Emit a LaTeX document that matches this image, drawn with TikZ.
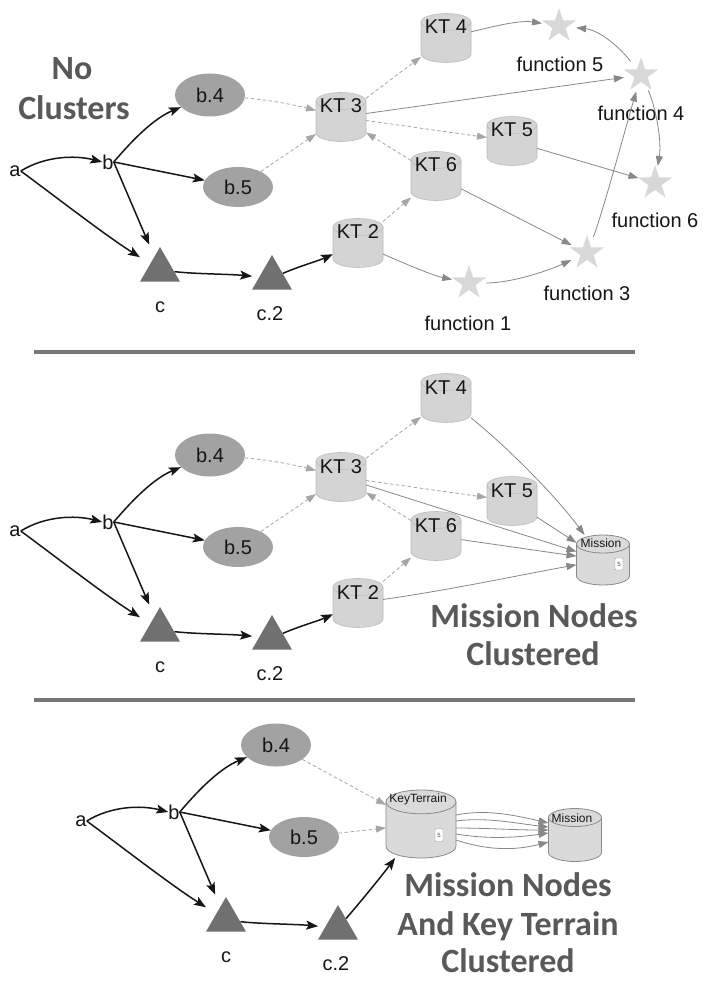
\documentclass[tikz,border=0pt]{standalone}
\usepackage{fontspec}
\setmainfont{Liberation Sans}
\newfontfamily\headfont{Carlito}
\usetikzlibrary{shapes.geometric,arrows.meta}

\definecolor{ink}{HTML}{161616}
\definecolor{ovalgray}{HTML}{A2A2A2}
\definecolor{trigray}{HTML}{707070}
\definecolor{cangray}{HTML}{D4D4D4}
\definecolor{canline}{HTML}{BDBDBD}
\definecolor{bigcanfill}{HTML}{DADADA}
\definecolor{canrim}{HTML}{8A8A8A}
\definecolor{stargray}{HTML}{D8D8D8}
\definecolor{linkgray}{HTML}{888888}
\definecolor{dashgray}{HTML}{A6A6A6}
\definecolor{badgeline}{HTML}{9A9A9A}
\definecolor{headgray}{HTML}{595959}
\definecolor{rulegray}{HTML}{777777}

\tikzset{
  lbl/.style={font=\fontsize{20}{24}\selectfont, text=ink, inner sep=0pt},
  smalllbl/.style={font=\fontsize{12}{14}\selectfont, text=ink, inner sep=0pt},
  oval/.style={ellipse, fill=ovalgray, minimum width=70pt, minimum height=43pt,
    inner sep=0pt, font=\fontsize{20}{24}\selectfont, text=ink},
  tri/.style={regular polygon, regular polygon sides=3, fill=trigray,
    minimum size=46pt, inner sep=0pt},
  canbox/.style={rectangle, inner sep=0pt, outer sep=0pt},
  canlook/.style={fill=cangray, draw=canline, line width=0.6pt},
  bigcanlook/.style={fill=bigcanfill, draw=canrim, line width=0.8pt},
  starshape/.style={star, star points=5, star point ratio=2.6, minimum size=36pt,
    inner sep=0pt, fill=stargray},
  ring/.style={circle, minimum size=34pt, inner sep=0pt},
  heavy/.style={draw=ink, line width=1.5pt, -{Stealth[length=12pt,width=9pt,inset=2.5pt]}},
  link/.style={draw=linkgray, line width=0.8pt, -{Triangle[length=10pt,width=7pt]}},
  dlink/.style={link, draw=dashgray, dash pattern=on 3.5pt off 2.5pt},
  badge/.style={draw=badgeline, fill=white, rounded corners=1pt, minimum width=8pt,
    minimum height=12pt, inner sep=0pt, font=\fontsize{6}{6}\selectfont, text=ink!80},
  head/.style={font=\headfont\bfseries\fontsize{34}{40}\selectfont, text=headgray,
    inner sep=0pt, anchor=base},
  divider/.style={draw=rulegray, line width=4pt},
}

% a named box with a can (cylinder) drawn in it: name, x, y, width, height, look
\newcommand{\drawcan}[6]{%
  \node[canbox, minimum width=#4pt, minimum height=#5pt] (#1) at (#2,#3) {};
  \pgfmathsetmacro\canrx{#4/2}%
  \pgfmathsetmacro\canry{#4*0.17}%
  \path[#6] ([yshift=-\canry pt]#1.north west) -- ([yshift=\canry pt]#1.south west)
    arc[start angle=180, end angle=360, x radius=\canrx pt, y radius=\canry pt]
    -- ([yshift=-\canry pt]#1.north east)
    arc[start angle=0, end angle=180, x radius=\canrx pt, y radius=\canry pt] -- cycle;
  \path[#6, fill=none] ([yshift=-\canry pt]#1.north west)
    arc[start angle=180, end angle=360, x radius=\canrx pt, y radius=\canry pt];
}

% the a / b / c part that every panel shares
\newcommand{\flowstart}[1]{%
  \node[lbl] (#1a) at (15,171) {a};
  \node[lbl] (#1b) at (108,162) {b};
  \node[oval] (#1b4) at (210,95) {b.4};
  \node[oval, minimum height=40pt] (#1b5) at (238,187) {b.5};
  \node[tri] (#1c) at (160,270) {};
  \node[tri] (#1c2) at (272,278) {};
  \node[lbl, anchor=base] (#1cname) at (160,312) {c};
  \node[lbl, anchor=base] (#1c2name) at (270,320) {c.2};
  \draw[heavy] (#1a.east) .. controls (45,156) and (75,155) .. (#1b.west);
  \draw[heavy, shorten >=12pt] (#1a.east) .. controls (60,200) and (105,235) .. (#1c);
  \draw[heavy] (#1b.east) .. controls (135,137) and (155,118) .. (#1b4);
  \draw[heavy] (#1b.east) -- (#1b5);
  \draw[heavy, shorten >=13pt] (#1b.east) -- (#1c);
  \draw[heavy, shorten >=7pt] (#1c) .. controls (195,274) and (228,274) .. (#1c2);
}

% the five key-terrain cans with their dashed links
\newcommand{\ktcluster}[1]{%
  \drawcan{#1k3}{341}{117}{50}{49}{canlook}
  \drawcan{#1k4}{446}{38}{50}{49}{canlook}
  \drawcan{#1k5}{512}{141}{50}{49}{canlook}
  \drawcan{#1k6}{436}{176}{50}{49}{canlook}
  \drawcan{#1k2}{358}{243}{50}{49}{canlook}
  \node[lbl, anchor=base] (#1k3name) at (341,113) {KT 3};
  \node[lbl, anchor=base] (#1k4name) at (446,34) {KT 4};
  \node[lbl, anchor=base] (#1k5name) at (512,137) {KT 5};
  \node[lbl, anchor=base] (#1k6name) at (436,172) {KT 6};
  \node[lbl, anchor=base] (#1k2name) at (358,239) {KT 2};
  \draw[dlink] (#1b4) .. controls (270,100) and (295,105) .. (#1k3);
  \draw[dlink] (#1b5) -- (#1k3);
  \draw[dlink] (#1k3) -- (#1k4);
  \draw[dlink] (#1k3) -- (#1k5);
  \draw[dlink] (#1k6) -- (#1k3);
  \draw[dlink] (#1k2) -- (#1k6);
  \draw[heavy] (#1c2) .. controls (300,266) and (318,261) .. (#1k2);
}

\begin{document}
\begin{tikzpicture}[x=1pt,y=-1pt]
\fill[white] (0,0) rectangle (702,981);
\useasboundingbox (0,0) rectangle (702,981);

% ---------- panel 1: no clusters ----------
\node[head] (h1a) at (72,80) {No};
\node[head] (h1b) at (74,120) {Clusters};
\flowstart{t}
\ktcluster{t}

\node[starshape] (f5star) at (559,26) {};
\node[starshape] (f4star) at (641,75) {};
\node[starshape] (f6star) at (655,183) {};
\node[starshape] (f3star) at (587,253) {};
\node[starshape] (f1star) at (469,283) {};
\node[ring] (f5) at (559,26) {};
\node[ring] (f4) at (641,75) {};
\node[ring] (f6) at (655,183) {};
\node[ring] (f3) at (587,253) {};
\node[ring] (f1) at (469,283) {};
\node[lbl, anchor=base] (f5name) at (560,72) {function 5};
\node[lbl, anchor=base] (f4name) at (641,121) {function 4};
\node[lbl, anchor=base] (f6name) at (655,228) {function 6};
\node[lbl, anchor=base] (f3name) at (587,300) {function 3};
\node[lbl, anchor=base] (f1name) at (468,330) {function 1};

\draw[link] (tk4) .. controls (495,26) and (520,20) .. (f5);
\draw[link] (tk3) -- (f4);
\draw[link] (f4) .. controls (618,45) and (598,30) .. (f5);
\draw[link] (f4) .. controls (655,105) and (662,140) .. (f6);
\draw[link] (tk5) -- (f6);
\draw[link] (tk6) -- (f3);
\draw[link] (tk2) .. controls (410,266) and (435,276) .. (f1);
\draw[link] (f1) .. controls (510,283) and (545,272) .. (f3);
\draw[link] (f3) .. controls (602,215) and (625,130) .. (f4);

\draw[divider] (34,352) -- (635,352);

% ---------- panel 2: mission nodes clustered ----------
\begin{scope}[shift={(0,360)}]
  \flowstart{m}
  \ktcluster{m}
\end{scope}
\drawcan{mis1}{603}{560}{53}{50}{bigcanlook}
\node[smalllbl] (mis1name) at (601,543) {Mission};
\node[badge] (mis1badge) at (619,564) {5};
\draw[link] (mk4) .. controls (505,445) and (555,495) .. (mis1);
\draw[link] (mk5) -- (mis1);
\draw[link] (mk3) -- (mis1);
\draw[link] (mk6) -- (mis1);
\draw[link] (mk2) .. controls (450,590) and (520,575) .. (mis1);
\node[head] (h2a) at (534,627) {Mission Nodes};
\node[head] (h2b) at (533,665) {Clustered};

\draw[divider] (34,700) -- (635,700);

% ---------- panel 3: mission nodes and key terrain clustered ----------
\begin{scope}[shift={(66,650)}]
  \flowstart{u}
\end{scope}
\drawcan{kter}{421}{824}{70}{68}{bigcanlook}
\node[smalllbl] (ktername) at (418,799) {KeyTerrain};
\node[badge, minimum height=13pt] (kterbadge) at (439,835) {5};
\drawcan{mis2}{575}{835}{53}{53}{bigcanlook}
\node[smalllbl] (mis2name) at (572,818) {Mission};
\draw[dlink] (ub4) -- (kter);
\draw[dlink] (ub5) -- (kter);
\draw[heavy] (uc2) .. controls (362,900) and (380,878) .. (kter);
\draw[link] ([yshift=9pt]kter.0) .. controls +(30,-6) and +(-35,-8) .. ([yshift=12pt]mis2.180);
\draw[link] ([yshift=3pt]kter.0) .. controls +(30,-4) and +(-35,-4) .. ([yshift=8pt]mis2.180);
\draw[link] ([yshift=-4pt]kter.0) .. controls +(30,0) and +(-35,0) .. ([yshift=5pt]mis2.180);
\draw[link] ([yshift=-10pt]kter.0) .. controls +(30,5) and +(-35,5) .. ([yshift=2pt]mis2.180);
\draw[link] ([yshift=-16pt]kter.0) .. controls +(30,10) and +(-35,9) .. ([yshift=-7pt]mis2.180);
\node[head] (h3a) at (508,896) {Mission Nodes};
\node[head] (h3b) at (508,935) {And Key Terrain};
\node[head] (h3c) at (508,972) {Clustered};
\end{tikzpicture}
\end{document}
